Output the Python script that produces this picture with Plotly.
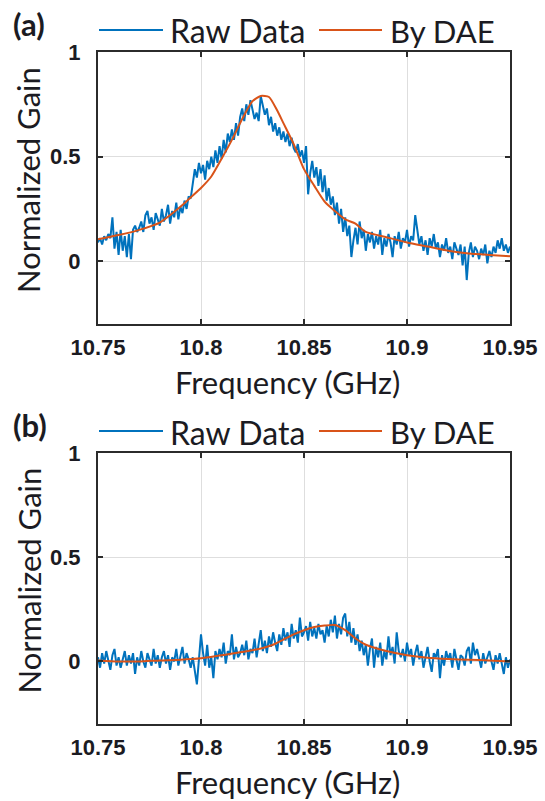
import plotly.graph_objects as go

# ---------------- data ----------------
f_start = 10.75
f_step = 0.001

raw_a = [0.09, 0.11, 0.08, 0.12, 0.10, 0.13, 0.11, 0.21, 0.06, 0.14,
         0.03, 0.15, 0.05, 0.12, 0.02, 0.13, 0.01, 0.15, 0.17, 0.14,
         0.16, 0.19, 0.14, 0.22, 0.24, 0.18, 0.21, 0.15, 0.23, 0.20,
         0.17, 0.25, 0.19, 0.22, 0.27, 0.18, 0.24, 0.21, 0.28, 0.20,
         0.26, 0.23, 0.29, 0.25, 0.31,
         0.30, 0.36, 0.44, 0.40, 0.47, 0.42, 0.46, 0.39, 0.48, 0.44,
         0.50, 0.45, 0.53, 0.47, 0.55, 0.49, 0.58, 0.52, 0.61, 0.57,
         0.63, 0.58, 0.66, 0.60, 0.69, 0.73, 0.67, 0.75, 0.70, 0.77,
         0.72, 0.68, 0.71, 0.67, 0.79, 0.74, 0.70, 0.73, 0.65, 0.69,
         0.62, 0.66, 0.60, 0.64, 0.58, 0.62, 0.57, 0.61, 0.55, 0.59,
         0.54, 0.52, 0.56, 0.50, 0.53, 0.47, 0.55, 0.32, 0.42, 0.48,
         0.40, 0.45, 0.36, 0.44, 0.33, 0.41, 0.29, 0.35, 0.27, 0.31,
         0.22, 0.28, 0.18, 0.25, 0.14, 0.21, 0.12, 0.17, 0.02, 0.10,
         0.16, 0.08, 0.19, 0.11, 0.15, 0.05, 0.13, 0.09, 0.14, 0.06,
         0.12, 0.08, 0.15, 0.03, 0.11, 0.07, 0.13, 0.09, 0.02, 0.12,
         0.08, 0.14, 0.06, 0.11, 0.09, 0.15, 0.07, 0.12, 0.10, 0.22,
         0.14, 0.08, 0.12, 0.05, 0.10, 0.03, 0.11, 0.07, 0.13, 0.06,
         0.09, 0.02, 0.08, 0.05, 0.11, 0.04, 0.07, 0.01, 0.09, 0.06,
         0.03, 0.08, -0.02, 0.07, -0.09, 0.04, 0.09, 0.02, 0.07, 0.05,
         0.01, 0.06, 0.03, 0.08, -0.01, 0.05, 0.02, 0.07, 0.04, 0.10,
         0.06, 0.11, 0.05, 0.08, 0.04, 0.07]

raw_b = [0.02, -0.03, 0.04, -0.01, 0.05, 0.01, -0.04, 0.03, 0.06, -0.02,
         0.02, -0.03, 0.01, 0.05, -0.02, 0.03, -0.01, 0.04, -0.06, 0.02,
         -0.02, 0.05, 0.00, -0.03, 0.04, 0.01, -0.02, 0.06, -0.01, 0.03,
         -0.03, 0.02, 0.05, -0.01, 0.03, -0.04, 0.02, 0.00, 0.06, -0.02,
         0.03, 0.07, -0.01, 0.04, 0.01, -0.03, 0.02, -0.05, -0.11, 0.01,
         0.13, 0.04, -0.02, 0.08, -0.03, 0.02, -0.08, 0.05, 0.01, 0.06,
         0.02, 0.09, -0.01, 0.05, 0.03, 0.13, 0.01, 0.07, 0.02, 0.04,
         0.08, 0.03, 0.10, 0.01, 0.06, 0.04, 0.11, 0.02, 0.08, 0.15,
         0.05, 0.10, 0.04, 0.12, 0.07, 0.14, 0.09, 0.05, 0.13, 0.08,
         0.16, 0.10, 0.14, 0.07, 0.18, 0.11, 0.15, 0.09, 0.21, 0.12,
         0.14, 0.17, 0.10, 0.19, 0.12, 0.16, 0.11, 0.18, 0.13, 0.15,
         0.09, 0.17, 0.12, 0.20, 0.14, 0.22, 0.11, 0.18, 0.13, 0.21,
         0.23, 0.12, 0.19, 0.09, 0.16, 0.08, 0.13, 0.05, 0.10, 0.03,
         0.08, -0.02, 0.06, 0.11, -0.03, 0.07, 0.02, 0.09, -0.02, 0.05,
         0.01, 0.12, 0.03, 0.07, -0.01, 0.14, 0.05, 0.02, 0.06, 0.00,
         0.09, 0.03, 0.06, -0.02, 0.04, 0.08, 0.01, 0.05, -0.03, 0.03,
         0.07, 0.00, -0.05, 0.04, 0.02, 0.06, -0.08, 0.03, -0.02, 0.05,
         0.01, 0.04, -0.03, 0.06, 0.00, -0.04, 0.03, 0.02, -0.02, 0.05,
         0.07, -0.01, 0.09, 0.03, 0.06, 0.01, -0.03, 0.04, -0.01, 0.02,
         0.05, 0.00, -0.04, 0.03, -0.01, 0.04, -0.02, -0.06, 0.02, -0.03,
         0.01]

freq_raw_a = [round(f_start + i * f_step, 4) for i in range(len(raw_a))]
freq_raw_b = [round(f_start + i * f_step, 4) for i in range(len(raw_b))]

freq_dae_a = [10.750, 10.760, 10.770, 10.780, 10.790, 10.795, 10.800, 10.805,
              10.810, 10.815, 10.820, 10.825, 10.829, 10.833, 10.837, 10.840,
              10.845, 10.850, 10.855, 10.860, 10.865, 10.870, 10.875, 10.880,
              10.890, 10.900, 10.910, 10.920, 10.930, 10.940, 10.950]
gain_dae_a = [0.105, 0.125, 0.150, 0.185, 0.260, 0.305, 0.350, 0.405,
              0.490, 0.580, 0.680, 0.765, 0.790, 0.785, 0.720, 0.660,
              0.560, 0.440, 0.360, 0.285, 0.240, 0.200, 0.180, 0.140,
              0.115, 0.090, 0.070, 0.050, 0.037, 0.030, 0.024]

freq_dae_b = [10.750, 10.760, 10.770, 10.780, 10.790, 10.800, 10.810, 10.820,
              10.830, 10.835, 10.840, 10.845, 10.850, 10.855, 10.860, 10.865,
              10.870, 10.875, 10.880, 10.890, 10.900, 10.910, 10.920, 10.930,
              10.940, 10.950]
gain_dae_b = [0.005, 0.000, 0.000, 0.005, 0.008, 0.015, 0.030, 0.045,
              0.065, 0.080, 0.105, 0.130, 0.150, 0.165, 0.172, 0.175,
              0.150, 0.110, 0.080, 0.050, 0.030, 0.018, 0.012, 0.008,
              0.005, 0.000]

x_ticks = [10.75, 10.8, 10.85, 10.9, 10.95]
x_tick_text = ["10.75", "10.8", "10.85", "10.9", "10.95"]
y_ticks = [0, 0.5, 1]
y_tick_text = ["0", "0.5", "1"]
panel_labels = ["(a)", "(b)"]
series_names = ["Raw Data", "By DAE"]
x_title = "Frequency (GHz)"
y_title = "Normalized Gain"

# ---------------- style ----------------
W, H = 545, 801
BLUE = "#0072BD"
ORANGE = "#D95319"
TXT = "#1b1b22"
FRAME = "#2b2b2b"
GRID = "#dedede"
TEXT_FONT = "Lato"


def px(x):
    return x / W


def py(y):
    return 1 - y / H


fig = go.Figure()

panels = [
    dict(raw=raw_a, fr=freq_raw_a, fd=freq_dae_a, gd=gain_dae_a, xa="x", ya="y",
         top=52, bot=324),
    dict(raw=raw_b, fr=freq_raw_b, fd=freq_dae_b, gd=gain_dae_b, xa="x2", ya="y2",
         top=453, bot=724),
]

for k, p in enumerate(panels):
    fig.add_trace(go.Scatter(x=p["fr"], y=p["raw"], mode="lines", name=series_names[0],
                             line=dict(color=BLUE, width=2), xaxis=p["xa"], yaxis=p["ya"],
                             showlegend=False))
    fig.add_trace(go.Scatter(x=p["fd"], y=p["gd"], mode="lines", name=series_names[1],
                             line=dict(color=ORANGE, width=2, shape="spline", smoothing=0.6),
                             xaxis=p["xa"], yaxis=p["ya"], showlegend=False))

axis_common = dict(showline=True, linecolor=FRAME, linewidth=2, mirror="allticks",
                   ticks="inside", ticklen=5, tickwidth=1.5, tickcolor=FRAME,
                   showgrid=True, gridcolor=GRID, gridwidth=1, zeroline=False,
                   automargin=False,
                   tickfont=dict(family="Liberation Sans", size=22, color=TXT, weight="bold"))

layout = dict(width=W, height=H, margin=dict(l=0, r=0, t=0, b=0, pad=0),
              paper_bgcolor="white", plot_bgcolor="white", showlegend=False,
              template="none")

for k, p in enumerate(panels):
    sx = "" if k == 0 else "2"
    layout["xaxis" + sx] = dict(axis_common, domain=[px(98), px(510)], range=[10.75, 10.95],
                                tickvals=x_ticks, ticktext=x_tick_text, anchor="y" + sx,
                                ticklabelstandoff=3)
    layout["yaxis" + sx] = dict(axis_common, domain=[py(p["bot"]), py(p["top"])], range=[-0.3, 1],
                                tickvals=y_ticks, ticktext=y_tick_text, anchor="x" + sx,
                                ticklabelstandoff=11)

fig.update_layout(**layout)

annotations = []
shapes = []
for k, p in enumerate(panels):
    top = p["top"]
    bot = p["bot"]
    ly = top - 22
    # panel label
    annotations.append(dict(text=panel_labels[k], x=px(11), y=py(top - 28), xref="paper", yref="paper",
                            xanchor="left", yanchor="middle", showarrow=False,
                            font=dict(family=TEXT_FONT, size=31, color=TXT, weight="bold")))
    # legend
    shapes.append(dict(type="line", xref="paper", yref="paper", x0=px(99), x1=px(163),
                       y0=py(ly), y1=py(ly), line=dict(color=BLUE, width=2)))
    annotations.append(dict(text=series_names[0], x=px(168), y=py(ly + 1), xref="paper", yref="paper",
                            xanchor="left", yanchor="middle", showarrow=False,
                            font=dict(family=TEXT_FONT, size=32, color=TXT)))
    shapes.append(dict(type="line", xref="paper", yref="paper", x0=px(319), x1=px(382),
                       y0=py(ly), y1=py(ly), line=dict(color=ORANGE, width=2)))
    annotations.append(dict(text=series_names[1], x=px(388), y=py(ly + 1), xref="paper", yref="paper",
                            xanchor="left", yanchor="middle", showarrow=False,
                            font=dict(family=TEXT_FONT, size=31, color=TXT)))
    # axis titles
    annotations.append(dict(text=x_title, x=px(287), y=py(bot + 58), xref="paper", yref="paper",
                            xanchor="center", yanchor="middle", showarrow=False,
                            font=dict(family=TEXT_FONT, size=31, color=TXT)))
    annotations.append(dict(text=y_title, x=px(28), y=py((top + bot) / 2 - 8), xref="paper",
                            yref="paper", xanchor="center", yanchor="middle", textangle=-90,
                            showarrow=False, font=dict(family=TEXT_FONT, size=31, color=TXT)))

fig.update_layout(annotations=annotations, shapes=shapes)
fig.write_html("out.html")
